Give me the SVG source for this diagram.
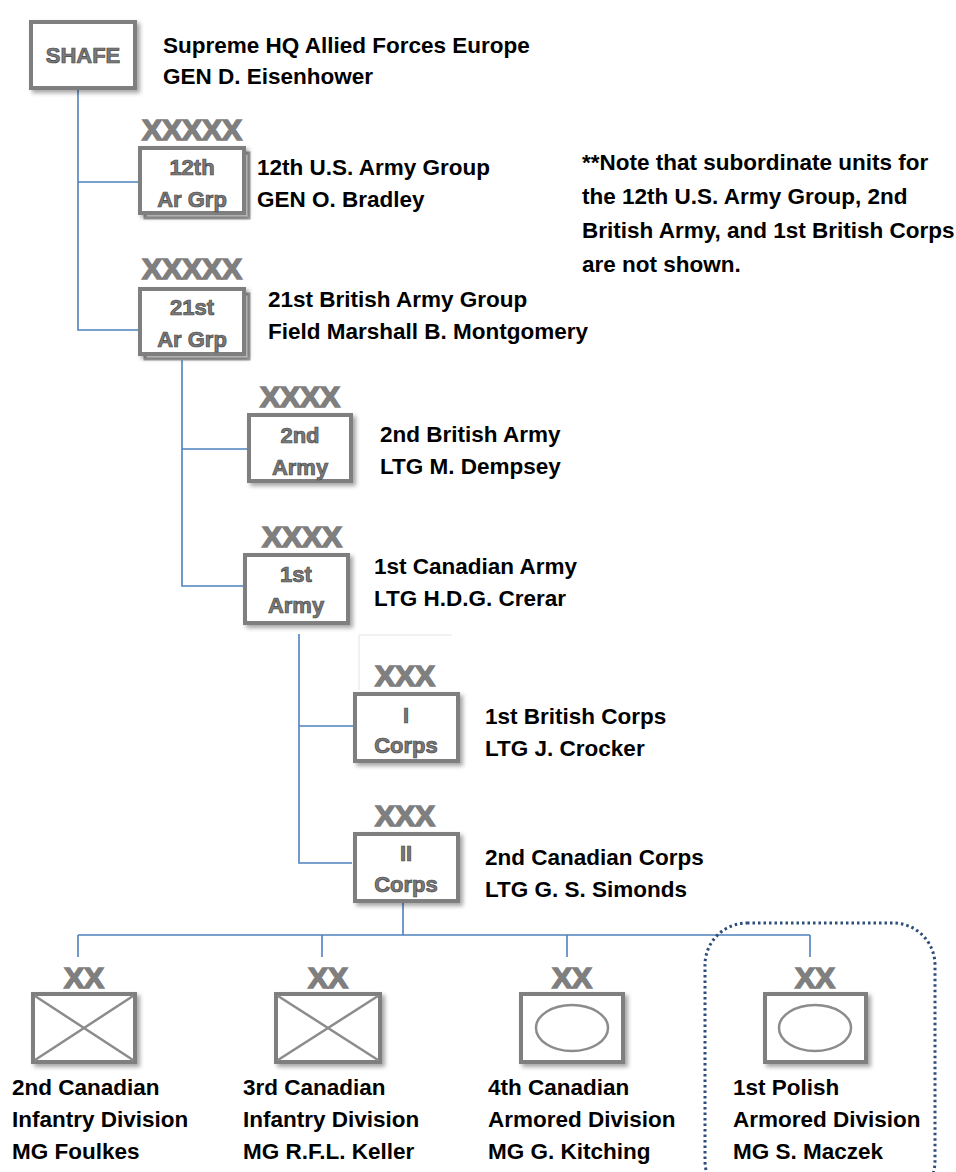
<svg xmlns="http://www.w3.org/2000/svg" width="956" height="1172" viewBox="0 0 956 1172">
<style>
.box{fill:#fff;stroke:#7f7f7f;stroke-width:4}
.back{fill:#fff;stroke:#a6a6a6;stroke-width:3}
.sym{fill:none;stroke:#8c8c8c;stroke-width:2.5}
.ech{font-family:"Liberation Sans",Arial,sans-serif;font-weight:bold;font-size:30px;fill:#7f7f7f;stroke:#7f7f7f;stroke-width:1.6;text-anchor:middle}
.bt{font-family:"Liberation Sans",Arial,sans-serif;font-weight:bold;font-size:22px;fill:#7a7a7a;stroke:#454545;stroke-width:0.7;text-anchor:middle}
.lbl{font-family:"Liberation Sans",Arial,sans-serif;font-weight:bold;font-size:22.5px;fill:#000}
.conn{stroke:#4f81bd;stroke-width:1.6;fill:none}
</style>
<defs>
<filter id="sh" x="-20%" y="-20%" width="150%" height="150%">
<feDropShadow dx="3" dy="3" stdDeviation="2" flood-color="#000" flood-opacity="0.35"/>
</filter>
</defs>
<rect width="956" height="1172" fill="#fff"/>

<g id="connectors">
<path class="conn" d="M78,90 V330 H140 M78,182 H140"/>
<path class="conn" d="M182,360 V586 H243 M182,449 H247"/>
<path class="conn" d="M299,634 V863 H352 M299,726 H353"/>
<path class="conn" d="M403,903 V935 M78,935 H810 M78,935 V957 M322,935 V957 M567,935 V957 M810,935 V957"/>
<path d="M359,690 V635 H452" fill="none" stroke="#e4e4e4" stroke-width="1"/>
</g>

<g id="shafe">
<rect class="box" x="31" y="22" width="104" height="66" filter="url(#sh)"/>
<text class="bt" x="83" y="63">SHAFE</text>
<text class="lbl" x="163" y="53">Supreme HQ Allied Forces Europe</text>
<text class="lbl" x="163" y="84">GEN D. Eisenhower</text>
</g>

<g id="ag12">
<text class="ech" x="192" y="140">XXXXX</text>
<rect class="back" x="145" y="153" width="104" height="65"/>
<rect class="box" x="140" y="148" width="104" height="65" filter="url(#sh)"/>
<text class="bt" x="192" y="175">12th</text>
<text class="bt" x="192" y="207">Ar Grp</text>
<text class="lbl" x="257" y="175">12th U.S. Army Group</text>
<text class="lbl" x="257" y="207">GEN O. Bradley</text>
</g>

<g id="note">
<text class="lbl" x="582" y="170">**Note that subordinate units for</text>
<text class="lbl" x="582" y="204">the 12th U.S. Army Group, 2nd</text>
<text class="lbl" x="582" y="238">British Army, and 1st British Corps</text>
<text class="lbl" x="582" y="272">are not shown.</text>
</g>

<g id="ag21">
<text class="ech" x="192" y="279">XXXXX</text>
<rect class="back" x="145" y="294" width="104" height="65"/>
<rect class="box" x="140" y="289" width="104" height="65" filter="url(#sh)"/>
<text class="bt" x="192" y="315">21st</text>
<text class="bt" x="192" y="347">Ar Grp</text>
<text class="lbl" x="268" y="307">21st British Army Group</text>
<text class="lbl" x="268" y="339">Field Marshall B. Montgomery</text>
</g>

<g id="army2">
<text class="ech" x="300" y="407">XXXX</text>
<rect class="box" x="249" y="415" width="102" height="66" filter="url(#sh)"/>
<text class="bt" x="300" y="443">2nd</text>
<text class="bt" x="300" y="475">Army</text>
<text class="lbl" x="380" y="442">2nd British Army</text>
<text class="lbl" x="380" y="474">LTG M. Dempsey</text>
</g>

<g id="army1">
<text class="ech" x="302" y="547">XXXX</text>
<rect class="box" x="245" y="555" width="103" height="68" filter="url(#sh)"/>
<text class="bt" x="296" y="582">1st</text>
<text class="bt" x="296" y="613">Army</text>
<text class="lbl" x="374" y="574">1st Canadian Army</text>
<text class="lbl" x="374" y="606">LTG H.D.G. Crerar</text>
</g>

<g id="corps1">
<text class="ech" x="405" y="686">XXX</text>
<rect class="box" x="355" y="694" width="103" height="67" filter="url(#sh)"/>
<text class="bt" x="406" y="723">I</text>
<text class="bt" x="406" y="753">Corps</text>
<text class="lbl" x="485" y="724">1st British Corps</text>
<text class="lbl" x="485" y="756">LTG J. Crocker</text>
</g>

<g id="corps2">
<text class="ech" x="405" y="826">XXX</text>
<rect class="box" x="355" y="834" width="103" height="67" filter="url(#sh)"/>
<text class="bt" x="406" y="861">II</text>
<text class="bt" x="406" y="892">Corps</text>
<text class="lbl" x="485" y="865">2nd Canadian Corps</text>
<text class="lbl" x="485" y="897">LTG G. S. Simonds</text>
</g>

<g id="div2">
<text class="ech" x="84" y="988">XX</text>
<rect class="box" x="33" y="994" width="102" height="68" filter="url(#sh)"/>
<path class="sym" d="M35,996 L133,1060 M133,996 L35,1060"/>
<text class="lbl" x="12" y="1095">2nd Canadian</text>
<text class="lbl" x="12" y="1127">Infantry Division</text>
<text class="lbl" x="12" y="1159">MG Foulkes</text>
</g>

<g id="div3">
<text class="ech" x="328" y="988">XX</text>
<rect class="box" x="276" y="994" width="104" height="68" filter="url(#sh)"/>
<path class="sym" d="M278,996 L378,1060 M378,996 L278,1060"/>
<text class="lbl" x="243" y="1095">3rd Canadian</text>
<text class="lbl" x="243" y="1127">Infantry Division</text>
<text class="lbl" x="243" y="1159">MG R.F.L. Keller</text>
</g>

<g id="div4">
<text class="ech" x="572" y="988">XX</text>
<rect class="box" x="521" y="994" width="102" height="68" filter="url(#sh)"/>
<ellipse class="sym" cx="572" cy="1028" rx="36" ry="23"/>
<text class="lbl" x="488" y="1095">4th Canadian</text>
<text class="lbl" x="488" y="1127">Armored Division</text>
<text class="lbl" x="488" y="1159">MG G. Kitching</text>
</g>

<g id="div1pol">
<rect x="705" y="923" width="230" height="280" rx="42" fill="none" stroke="#2e4d7b" stroke-width="3" stroke-dasharray="2.5,3"/>
<text class="ech" x="815" y="988">XX</text>
<rect class="box" x="765" y="994" width="101" height="68" filter="url(#sh)"/>
<ellipse class="sym" cx="815" cy="1028" rx="36" ry="23"/>
<text class="lbl" x="733" y="1095">1st Polish</text>
<text class="lbl" x="733" y="1127">Armored Division</text>
<text class="lbl" x="733" y="1159">MG S. Maczek</text>
</g>
</svg>
